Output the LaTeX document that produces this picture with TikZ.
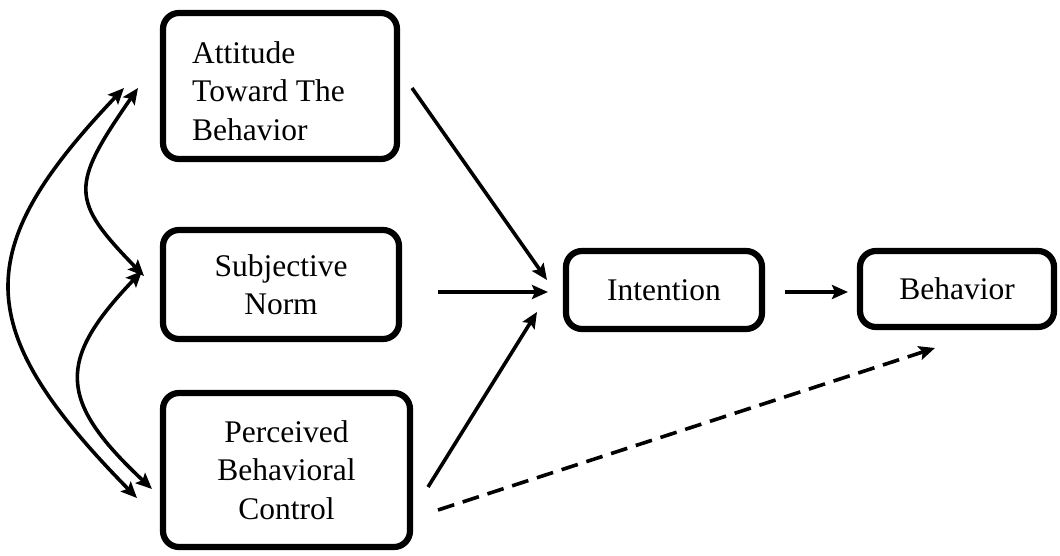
\documentclass[tikz,border=0pt]{standalone}
\usepackage{fontspec}
\setmainfont{Liberation Serif}
\usetikzlibrary{arrows.meta}
\begin{document}
\begin{tikzpicture}[x=1pt,y=-1pt,
  box/.style={draw, line width=6.2pt, rounded corners=16pt, inner sep=0pt},
  lbl/.style={font=\fontsize{31.5}{38.5}\selectfont, inner sep=0pt},
  arr/.style={line width=3.6pt, -{Stealth[length=16pt,width=14pt,inset=3pt]}},
  dbl/.style={line width=3.6pt, {Stealth[length=16pt,width=14pt,inset=3pt]}-{Stealth[length=16pt,width=14pt,inset=3pt]}},
  dashedarr/.style={arr, dash pattern=on 17pt off 9pt}]
\useasboundingbox[fill=white] (0,0) rectangle (1060,556);

% boxes
\node[box, minimum width=234pt, minimum height=146pt] (att) at (280,86) {};
\node[lbl, align=left, anchor=west] (attT) at (192,91) {Attitude\\Toward The\\Behavior};
\node[box, lbl, align=center, minimum width=236pt, minimum height=109pt] (sub) at (281,284.5) {Subjective\\Norm};
\node[box, lbl, align=center, minimum width=247pt, minimum height=154pt] (pbc) at (286.5,470) {Perceived\\Behavioral\\Control};
\node[box, lbl, minimum width=196pt, minimum height=78pt] (int) at (664,290) {Intention};
\node[box, lbl, minimum width=194pt, minimum height=76pt] (beh) at (957,289) {Behavior};

% connector end points
\coordinate (a1) at (412,88);  \coordinate (a2) at (547,280);
\coordinate (s1) at (438,292); \coordinate (s2) at (548,292);
\coordinate (p1) at (428,487); \coordinate (p2) at (537,312);
\coordinate (i1) at (785,292); \coordinate (i2) at (848,292);
\coordinate (d1) at (438,510); \coordinate (d2) at (935,348);

\coordinate (c1a) at (137,498); \coordinate (c1b) at (124,88);
\coordinate (c2a) at (144,276); \coordinate (c2b) at (138,88);
\coordinate (c3a) at (152,489); \coordinate (c3b) at (142,271);

\draw[arr] (a1) -- (a2);
\draw[arr] (s1) -- (s2);
\draw[arr] (p1) -- (p2);
\draw[arr] (i1) -- (i2);
\draw[dashedarr] (d1) -- (d2);

\draw[dbl] (c1a) .. controls (-30,328) and (-30,250) .. (c1b);
\draw[dbl] (c2a) .. controls (70,200) and (70,186) .. (c2b);
\draw[dbl] (c3a) .. controls (57,400) and (57,360) .. (c3b);
\end{tikzpicture}
\end{document}
